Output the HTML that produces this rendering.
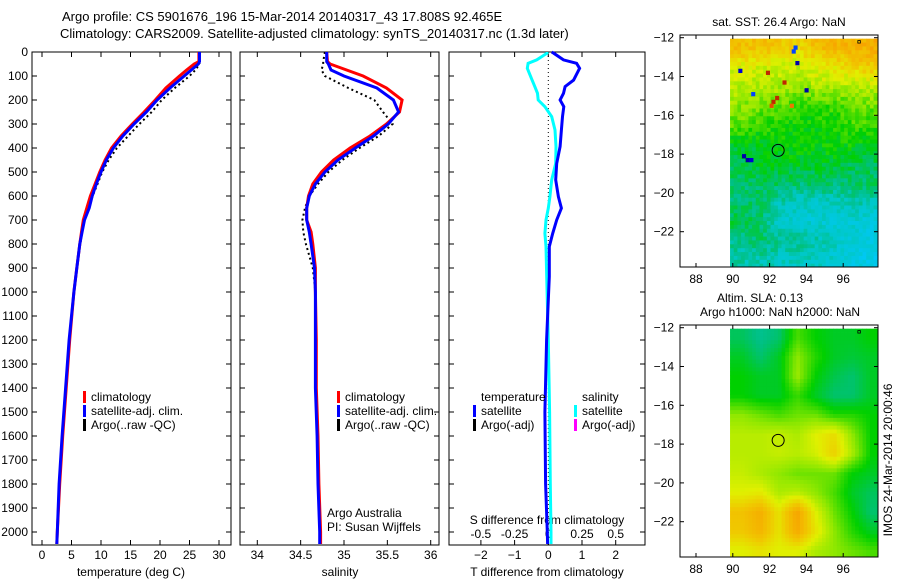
<!DOCTYPE html>
<html><head><meta charset="utf-8"><style>
html,body{margin:0;padding:0;background:#fff;}
svg{display:block;font-family:"Liberation Sans",sans-serif;}
text{fill:#000;font-size:12px;}
</style></head><body>
<svg id="c" width="900" height="580" viewBox="0 0 900 580" xmlns="http://www.w3.org/2000/svg">
<text x="62" y="21" style="font-size:13px">Argo profile: CS 5901676_196 15-Mar-2014 20140317_43 17.808S 92.465E</text>
<text x="60" y="38" style="font-size:13px">Climatology: CARS2009. Satellite-adjusted climatology: synTS_20140317.nc (1.3d later)</text>
<g id="gT"></g>
<g id="gS"></g>
<g id="gD"></g>
<g id="gM1"></g>
<g id="gM2"></g>
<text transform="translate(892,460) rotate(-90)" text-anchor="middle">IMOS 24-Mar-2014 20:00:46</text>
</svg>
<script>
// ---- data ----
const depths    = [0,40,50,75,100,150,200,250,300,350,400,450,500,550,600,650,700,750,800,900,1000,1200,1400,1600,1800,2000,2050];
const tempClim  = [26.6,26.6,25.8,24.5,23.3,21.0,19.2,17.3,15.3,13.4,11.8,10.7,9.8,9.0,8.2,7.6,7.0,6.7,6.4,5.9,5.4,4.7,4.1,3.5,3.0,2.6,2.5];
const tempSat   = [26.7,26.7,26.5,25.3,24.1,21.7,19.5,17.7,15.6,13.7,12.1,10.9,10.0,9.2,8.5,8.0,7.2,6.8,6.4,5.9,5.4,4.6,4.0,3.4,2.9,2.6,2.5];
const tempArgo  = [26.7,26.7,26.7,26.0,25.0,22.5,20.3,18.6,16.5,14.6,12.7,11.3,10.2,9.4,8.6,7.8,7.2,6.8,6.5,5.9,5.4,4.7,4.1,3.5,3.0,2.6,2.5];
const salClim   = [34.80,34.81,34.84,35.03,35.22,35.49,35.67,35.64,35.49,35.30,35.07,34.88,34.74,34.64,34.59,34.57,34.57,34.62,34.64,34.67,34.67,34.68,34.68,34.70,34.71,34.73,34.73];
const salSat    = [34.80,34.80,34.82,34.85,35.00,35.38,35.57,35.63,35.51,35.34,35.13,34.93,34.78,34.67,34.60,34.57,34.57,34.60,34.62,34.66,34.67,34.67,34.67,34.69,34.70,34.72,34.72];
const salArgo   = [34.78,34.76,34.76,34.74,34.78,35.05,35.35,35.45,35.56,35.40,35.18,34.98,34.82,34.70,34.60,34.55,34.52,34.53,34.56,34.64,34.67,34.67,34.67,34.69,34.70,34.72,34.72];
const diffDepths= [0,5,33,47,68,117,144,172,200,228,269,325,394,464,533,603,651,700,756,811,936,1200,1500,1800,2000,2050];
const tDiffSat  = [0.1,0.16,0.45,0.84,0.93,0.75,0.5,0.45,0.35,0.46,0.42,0.39,0.35,0.25,0.22,0.3,0.39,0.25,0.13,0.03,0.03,-0.05,-0.1,-0.08,-0.03,-0.02];
const sDiffSat  = [-0.01,-0.01,-0.086,-0.15,-0.156,-0.12,-0.10,-0.08,-0.075,-0.025,0.025,0.05,0.057,0.055,0.025,0.012,0.0,-0.017,-0.025,-0.017,-0.012,0.0,0.01,0.015,0.02,0.02];
const depthTicks= [0,100,200,300,400,500,600,700,800,900,1000,1100,1200,1300,1400,1500,1600,1700,1800,1900,2000];
const tempTicks = [0,5,10,15,20,25,30];
const salTicks  = [34,34.5,35,35.5,36];
const salTickLabels = ["34","34.5","35","35.5","36"];
const tDiffTicks= [-2,-1,0,1,2];
const sDiffTicks= [-0.5,-0.25,0,0.25,0.5];
const sDiffTickLabels = ["-0.5","-0.25","0","0.25","0.5"];
const lonTicks  = [88,90,92,94,96];
const latTicks  = [-12,-14,-16,-18,-20,-22];
// SST field (colour index 0..1), rows lat -12..-23, cols lon 90..97
const sstGrid = [
[0.74,0.74,0.72,0.70,0.74,0.76,0.76,0.77],
[0.66,0.65,0.65,0.64,0.67,0.68,0.70,0.72],
[0.63,0.62,0.62,0.60,0.62,0.62,0.63,0.63],
[0.60,0.58,0.58,0.55,0.55,0.55,0.57,0.58],
[0.57,0.55,0.54,0.52,0.52,0.53,0.55,0.55],
[0.50,0.50,0.52,0.52,0.52,0.52,0.52,0.50],
[0.48,0.50,0.50,0.50,0.50,0.50,0.48,0.48],
[0.46,0.47,0.47,0.46,0.46,0.46,0.46,0.46],
[0.46,0.46,0.42,0.40,0.40,0.40,0.42,0.42],
[0.48,0.46,0.40,0.38,0.38,0.38,0.38,0.36],
[0.44,0.46,0.44,0.44,0.42,0.40,0.38,0.36],
[0.42,0.42,0.40,0.40,0.40,0.38,0.36,0.34]];
const sstSpots = [[90.5,-18,0.05],[90.7,-18.2,0.05],[90.9,-18.2,0.1],[92.1,-15.2,0.95],[92.3,-15.0,0.95],[91.8,-13.7,0.95],[93.2,-12.6,0.2],[93.4,-13.2,0.05],[93.9,-14.6,0.05],[92.7,-14.2,0.95],[91.0,-14.8,0.2],[90.3,-13.6,0.1],[93.1,-15.4,0.85],[92.0,-15.4,0.9],[93.3,-12.4,0.2]];
const slaGrid = [
[0.47,0.44,0.46,0.56,0.52,0.50,0.50,0.52],
[0.50,0.46,0.50,0.60,0.54,0.50,0.49,0.50],
[0.52,0.50,0.50,0.61,0.52,0.48,0.46,0.50],
[0.52,0.50,0.50,0.55,0.50,0.46,0.46,0.50],
[0.60,0.58,0.56,0.58,0.58,0.54,0.54,0.52],
[0.63,0.63,0.64,0.62,0.66,0.69,0.60,0.52],
[0.63,0.63,0.64,0.63,0.65,0.71,0.62,0.52],
[0.64,0.62,0.60,0.58,0.58,0.58,0.52,0.50],
[0.66,0.67,0.62,0.63,0.60,0.56,0.50,0.47],
[0.73,0.77,0.68,0.79,0.66,0.58,0.52,0.46],
[0.72,0.76,0.68,0.78,0.68,0.60,0.54,0.50],
[0.66,0.68,0.66,0.66,0.62,0.60,0.58,0.56]];

// ---- helpers ----
const NS="http://www.w3.org/2000/svg";
function mk(tag,attrs,parent){const e=document.createElementNS(NS,tag);for(const k in attrs)e.setAttribute(k,attrs[k]);parent.appendChild(e);return e;}
function txt(s,x,y,anchor,parent,size){const e=mk('text',{x:x,y:y,'text-anchor':anchor||'start'},parent);if(size)e.style.fontSize=size+'px';e.textContent=s;return e;}
const TOP=52,BOT=545;
const yD=d=>TOP+d*0.24;
function frame(g,l,r,name){const e=mk('rect',{x:l,y:TOP,width:r-l,height:BOT-TOP,fill:'none',stroke:'#000','stroke-width':1},g);

}
function depthTicksDraw(g,l,r,labels){depthTicks.forEach(d=>{const y=yD(d);mk('line',{x1:l,x2:l+5,y1:y,y2:y,stroke:'#000'},g);mk('line',{x1:r-5,x2:r,y1:y,y2:y,stroke:'#000'},g);
if(labels){const t=txt(String(d),28,y+4,'end',g);

}});}
function series(g,xs,ds,xf,color,w,dash,name){const pts=xs.map((v,i)=>{const x=xf(v),y=yD(ds[i]);return x.toFixed(1)+','+y.toFixed(1);}).join(' ');
const p=mk('polyline',{points:pts,fill:'none',stroke:color,'stroke-width':w},g);if(dash)p.setAttribute('stroke-dasharray',dash);

return p;}
function legendEntry(g,x,y,color,label){const m=mk('rect',{x:x,y:y-10,width:3,height:12,fill:color},g);


if(label){const t=txt(label,x+8,y,'start',g);

}}

// ---- temperature panel ----
const gT=document.getElementById('gT');
const xT=v=>42+v*5.9;
frame(gT,32,231,'temperature-axes');
depthTicksDraw(gT,32,231,true);
tempTicks.forEach(v=>{const x=xT(v);mk('line',{x1:x,x2:x,y1:BOT-5,y2:BOT,stroke:'#000'},gT);mk('line',{x1:x,x2:x,y1:TOP,y2:TOP+5,stroke:'#000'},gT);txt(String(v),x,559,'middle',gT);});
txt('temperature (deg C)',131,576,'middle',gT);
series(gT,tempArgo,depths,xT,'#000',2,'2,3','argo-temperature-line');
series(gT,tempClim,depths,xT,'#f00',3,null,'climatology-temperature-line');
series(gT,tempSat,depths,xT,'#00f',3,null,'satellite-temperature-line');
legendEntry(gT,83,401,'#f00','climatology');
legendEntry(gT,83,415,'#00f','satellite-adj. clim.');
legendEntry(gT,83,429,'#000','Argo(..raw -QC)');

// ---- salinity panel ----
const gS=document.getElementById('gS');
const xS=v=>257.3+(v-34)*86.7;
frame(gS,240,439,'salinity-axes');
depthTicksDraw(gS,240,439,false);
salTicks.forEach((v,i)=>{const x=xS(v);mk('line',{x1:x,x2:x,y1:BOT-5,y2:BOT,stroke:'#000'},gS);mk('line',{x1:x,x2:x,y1:TOP,y2:TOP+5,stroke:'#000'},gS);txt(salTickLabels[i],x,559,'middle',gS);});
txt('salinity',340,576,'middle',gS);
series(gS,salArgo,depths,xS,'#000',2,'2,3','argo-salinity-line');
series(gS,salClim,depths,xS,'#f00',3,null,'climatology-salinity-line');
series(gS,salSat,depths,xS,'#00f',3,null,'satellite-salinity-line');
legendEntry(gS,337,401,'#f00','climatology');
legendEntry(gS,337,415,'#00f','satellite-adj. clim.');
legendEntry(gS,337,429,'#000','Argo(..raw -QC)');
txt('Argo Australia',327,517,'start',gS);
txt('PI: Susan Wijffels',327,531,'start',gS);

// ---- difference panel ----
const gD=document.getElementById('gD');
const xTd=v=>548.3+v*33.7;
const xSd=v=>548.3+v*134.8;
frame(gD,449,645,'difference-axes');
depthTicksDraw(gD,449,645,false);
tDiffTicks.forEach(v=>{const x=xTd(v);mk('line',{x1:x,x2:x,y1:BOT-5,y2:BOT,stroke:'#000'},gD);mk('line',{x1:x,x2:x,y1:TOP,y2:TOP+5,stroke:'#000'},gD);txt(String(v).replace('-','\u2212'),x,559,'middle',gD);});
sDiffTicks.forEach((v,i)=>{txt(sDiffTickLabels[i],xSd(v),538,'middle',gD);});
mk('line',{x1:xTd(0),x2:xTd(0),y1:TOP,y2:BOT,stroke:'#000','stroke-dasharray':'1,3'},gD);
txt('T difference from climatology',547,576,'middle',gD);
txt('S difference from climatology',547,524,'middle',gD);
series(gD,sDiffSat,diffDepths,xSd,'#0ff',3,null,'salinity-difference-line');
series(gD,tDiffSat,diffDepths,xTd,'#00f',3,null,'temperature-difference-line');
txt('temperature',481,401,'start',gD);
txt('salinity',582,401,'start',gD);
legendEntry(gD,473,415,'#00f','satellite');
legendEntry(gD,473,429,'#000','Argo(-adj)');
legendEntry(gD,574,415,'#0ff','satellite');
legendEntry(gD,574,429,'#f0f','Argo(-adj)');

// ---- maps ----
const stops=[[0,[0,0,128]],[0.15,[0,0,255]],[0.3,[0,200,255]],[0.4,[0,200,200]],[0.45,[0,192,128]],[0.52,[0,208,0]],[0.6,[144,232,0]],[0.66,[224,240,0]],[0.72,[240,200,0]],[0.8,[248,160,0]],[0.9,[224,80,0]],[1,[160,0,0]]];
function cmap(v){v=Math.max(0,Math.min(1,v));for(let i=1;i<stops.length;i++){if(v<=stops[i][0]){const a=stops[i-1],b=stops[i],t=(v-a[0])/(b[0]-a[0]);return 'rgb('+a[1].map((c,k)=>Math.round(c+(b[1][k]-c)*t)).join(',')+')';}}return 'rgb(160,0,0)';}
function bil(grid,lon,lat){let c=(lon-90)-0.5,r=(-12-lat)-0.5;c=Math.max(0,Math.min(6.999,c));r=Math.max(0,Math.min(10.999,r));const c0=Math.floor(c),r0=Math.floor(r),fc=c-c0,fr=r-r0;
return grid[r0][c0]*(1-fc)*(1-fr)+grid[r0][c0+1]*fc*(1-fr)+grid[r0+1][c0]*(1-fc)*fr+grid[r0+1][c0+1]*fc*fr;}
function texture(i,j){const s=Math.sin(i*12.9898+j*78.233)*43758.5453;return s-Math.floor(s)-0.5;}
function drawMap(gid,top,grid,spots,step,name,wob){
 const g=document.getElementById(gid);const L=680,R=878,H=232,bottom=top+H;
 const xL=lon=>696+(lon-88)*18.4;const yL=lat=>top+2.7+(-12-lat)*19.4;
 let i=0;
 for(let lat=-12+0.15;lat>-24;lat-=step){i++;let j=0;for(let lon=89.85;lon<97.9;lon+=step){j++;
  let v=bil(grid,lon+step/2,lat-step/2);
  if(wob)v+=texture(i,j)*0.06;
  const x=xL(lon),y=yL(lat);const w=Math.min(xL(lon+step),R)-x;const h=Math.min(yL(lat-step),bottom)-y;
  if(w<=0||h<=0||y<top)continue;
  mk('rect',{x:x.toFixed(2),y:y.toFixed(2),width:(w+0.4).toFixed(2),height:(h+0.4).toFixed(2),fill:cmap(v)},g);}}
 spots.forEach(s=>{const c=mk('rect',{x:xL(s[0]),y:yL(s[1]),width:step*18.4+0.4,height:step*19.4+0.4,fill:cmap(s[2])},g);
  
  });
 const f=mk('rect',{x:L,y:top,width:R-L,height:H,fill:'none',stroke:'#000'},g);
 
 
 lonTicks.forEach(v=>{const x=xL(v);mk('line',{x1:x,x2:x,y1:bottom-4,y2:bottom,stroke:'#000'},g);mk('line',{x1:x,x2:x,y1:top,y2:top+4,stroke:'#000'},g);txt(String(v),x,bottom+16,'middle',g);});
 latTicks.forEach(v=>{const y=yL(v);mk('line',{x1:L,x2:L+4,y1:y,y2:y,stroke:'#000'},g);mk('line',{x1:R-4,x2:R,y1:y,y2:y,stroke:'#000'},g);txt('\u2212'+String(-v),L-6,y+4,'end',g);});
 const circ=mk('circle',{cx:xL(92.465),cy:yL(-17.808),r:6,fill:'none',stroke:'#000','stroke-width':1},g);
 
 
 mk('rect',{x:xL(96.85)-1,y:yL(-12.2)-1,width:2.5,height:2.5,fill:'none',stroke:'#000','stroke-width':0.8},g);
}
drawMap('gM1',35,sstGrid,sstSpots,0.2,'sst-map',true);
drawMap('gM2',325,slaGrid,[],0.2,'sla-map',false);
const g1=document.getElementById('gM1');
txt('sat. SST: 26.4 Argo: NaN',779,26,'middle',g1);
const g2=document.getElementById('gM2');
txt('Altim. SLA: 0.13',760,302,'middle',g2);
txt('Argo h1000: NaN h2000: NaN',780,316,'middle',g2);
</script>
</body></html>
